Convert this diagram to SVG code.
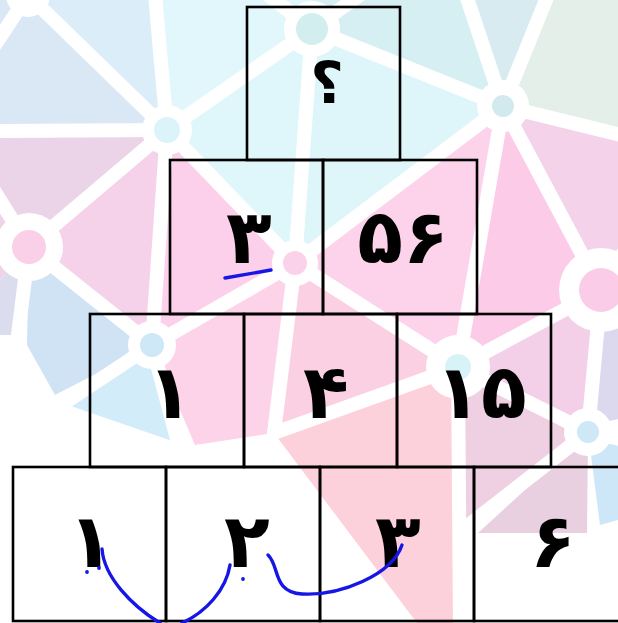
<svg xmlns="http://www.w3.org/2000/svg" width="618" height="623" viewBox="0 0 618 623">
<style>
.box{fill:none;stroke:#000;stroke-width:2.6}
.num{font-family:"DejaVu Sans",sans-serif;font-weight:bold;font-size:75px;text-anchor:middle;fill:#000}
.q{font-family:"DejaVu Sans",sans-serif;font-weight:bold;font-size:58px;text-anchor:middle;fill:#000}
.wl{stroke:#fff;stroke-width:14;stroke-linecap:round;fill:none}
.ring{fill:#fff}
.pen{fill:none;stroke:#1616e6;stroke-width:3.4;stroke-linecap:round}
.dot{fill:#1616e6}
</style>
<rect width="618" height="623" fill="#fff"/>
<g id="background">
  <polygon points="0,0 30,0 167,130 0,131" fill="#dae8f6"/>
  <polygon points="30,0 158,0 167,130" fill="#dcedfa"/>
  <polygon points="158,0 312,0 312,29 167,130" fill="#e2f7fc"/>
  <polygon points="167,130 312,29 295,263" fill="#dff6fb"/>
  <polygon points="312,0 470,0 503,106 312,29" fill="#d6eff2"/>
  <polygon points="470,0 545,0 503,106" fill="#d8ebf1"/>
  <polygon points="545,0 618,0 618,135 503,106" fill="#e3efe8"/>
  <polygon points="312,29 503,106 295,263" fill="#def6fa"/>
  <polygon points="295,263 503,106 458,367" fill="#fdd3eb"/>
  <polygon points="503,106 601,290 458,367" fill="#fccbe8"/>
  <polygon points="503,106 618,135 618,250 601,290" fill="#f3d2ea"/>
  <polygon points="167,130 295,263 152,345" fill="#fcd0ea"/>
  <polygon points="167,130 152,345 29,247" fill="#f6d2ea"/>
  <polygon points="0,131 167,130 29,247 0,195" fill="#ebd3e8"/>
  <polygon points="0,195 29,247 0,280" fill="#efd3e7"/>
  <polygon points="0,280 29,247 18,335 0,335" fill="#dcdcef"/>
  <polygon points="29,247 152,345 55,395 27,345" fill="#cfe3f5"/>
  <polygon points="152,345 178,443 68,405" fill="#d2ecfa"/>
  <polygon points="152,345 295,263 274,433 195,445" fill="#fdd3ea"/>
  <polygon points="295,263 458,367 274,433" fill="#fbd0e2"/>
  <polygon points="274,433 458,367 460,623 417,623" fill="#fdd1dc"/>
  <polygon points="458,367 588,432 470,522 462,540" fill="#efcfe2"/>
  <polygon points="588,432 478,533 587,533" fill="#e9d0e1"/>
  <polygon points="458,367 601,290 588,432" fill="#f3d0e8"/>
  <polygon points="601,290 618,280 618,425 588,432" fill="#dcd8ee"/>
  <polygon points="588,432 618,438 618,520 600,525" fill="#cde6f8"/>
  <g class="wl">
    <line x1="28" y1="-5" x2="167" y2="130"/>
    <line x1="28" y1="-5" x2="-5" y2="45"/>
    <line x1="-5" y1="131" x2="167" y2="130"/>
    <line x1="155" y1="-5" x2="167" y2="130"/>
    <line x1="167" y1="130" x2="312" y2="29"/>
    <line x1="167" y1="130" x2="29" y2="247"/>
    <line x1="167" y1="130" x2="152" y2="345"/>
    <line x1="167" y1="130" x2="295" y2="263"/>
    <line x1="29" y1="247" x2="-5" y2="192"/>
    <line x1="29" y1="247" x2="152" y2="345"/>
    <line x1="29" y1="247" x2="18" y2="335"/>
    <line x1="312" y1="29" x2="295" y2="263"/>
    <line x1="312" y1="29" x2="503" y2="106"/>
    <line x1="312" y1="29" x2="268" y2="-5"/>
    <line x1="312" y1="29" x2="360" y2="-5"/>
    <line x1="503" y1="106" x2="466" y2="-5"/>
    <line x1="503" y1="106" x2="548" y2="-5"/>
    <line x1="503" y1="106" x2="625" y2="136"/>
    <line x1="503" y1="106" x2="295" y2="263"/>
    <line x1="503" y1="106" x2="458" y2="367"/>
    <line x1="503" y1="106" x2="601" y2="290"/>
    <line x1="295" y1="263" x2="152" y2="345"/>
    <line x1="295" y1="263" x2="274" y2="433"/>
    <line x1="295" y1="263" x2="458" y2="367"/>
    <line x1="274" y1="433" x2="458" y2="367"/>
    <line x1="458" y1="367" x2="601" y2="290"/>
    <line x1="458" y1="367" x2="588" y2="432"/>
    <line x1="458" y1="367" x2="460" y2="628"/>
    <line x1="601" y1="290" x2="588" y2="432"/>
    <line x1="601" y1="290" x2="625" y2="250"/>
    <line x1="588" y1="432" x2="625" y2="425"/>
    <line x1="588" y1="432" x2="625" y2="440"/>
    <line x1="588" y1="432" x2="470" y2="524"/>
    <line x1="152" y1="345" x2="66" y2="402"/>
    <line x1="152" y1="345" x2="178" y2="443"/>
  </g>
  <circle class="ring" cx="28" cy="-5" r="22"/>
  <circle class="ring" cx="167" cy="130" r="25"/><circle cx="167" cy="130" r="13" fill="#dbf4f9"/>
  <circle class="ring" cx="29" cy="247" r="34"/><circle cx="29" cy="247" r="17" fill="#fad0e8"/>
  <circle class="ring" cx="312" cy="29" r="28"/><circle cx="312" cy="29" r="16" fill="#d3eeee"/>
  <circle class="ring" cx="295" cy="263" r="23"/><circle cx="295" cy="263" r="12" fill="#fad2ea"/>
  <circle class="ring" cx="503" cy="106" r="26"/><circle cx="503" cy="106" r="11" fill="#d2e9ee"/>
  <circle class="ring" cx="601" cy="290" r="42"/><circle cx="601" cy="290" r="22" fill="#fbcce8"/>
  <circle class="ring" cx="152" cy="345" r="24"/><circle cx="152" cy="345" r="12" fill="#cfe8f7"/>
  <circle class="ring" cx="458" cy="367" r="32"/><circle cx="458" cy="367" r="13" fill="#d8f3f8"/>
  <circle class="ring" cx="588" cy="432" r="24"/><circle cx="588" cy="432" r="11" fill="#cfe8f7"/>
</g>
<g id="cell-top"><rect class="box" x="247" y="7" width="153" height="153"/><text class="q" x="327" y="103">؟</text></g>
<g id="cell-r2-1"><rect class="box" x="170" y="160" width="153" height="154"/><text class="num" x="249" y="263">۳</text></g>
<g id="cell-r2-2"><rect class="box" x="323" y="160" width="154" height="154"/><text class="num" x="403" y="263">۵۶</text></g>
<g id="cell-r3-1"><rect class="box" x="90" y="314" width="154" height="153"/><text class="num" x="170" y="418">۱</text></g>
<g id="cell-r3-2"><rect class="box" x="244" y="314" width="153" height="153"/><text class="num" x="326" y="418">۴</text></g>
<g id="cell-r3-3"><rect class="box" x="397" y="314" width="154" height="153"/><text class="num" x="481" y="418">۱۵</text></g>
<g id="cell-r4-1"><rect class="box" x="13" y="467" width="153" height="154"/><text class="num" x="91" y="567">۱</text></g>
<g id="cell-r4-2"><rect class="box" x="166" y="467" width="154" height="154"/><text class="num" x="247" y="567">۲</text></g>
<g id="cell-r4-3"><rect class="box" x="320" y="467" width="154" height="154"/><text class="num" x="398" y="567">۳</text></g>
<g id="cell-r4-4"><rect class="box" x="474" y="467" width="154" height="154"/><text class="num" x="553" y="567">۶</text></g>
<g id="connectors">
  <path class="pen" d="M225,278 L271,270"/>
  <path class="pen" d="M102,549 C104,577 132,606 160,623"/>
  <path class="pen" d="M230,565 C226,590 206,612 182,623"/>
  <path class="pen" d="M268,555 C280,566 272,592 302,594 C340,596 392,575 402,545"/>
  <circle class="dot" cx="87" cy="572" r="1.9"/>
  <circle class="dot" cx="99" cy="568" r="1.9"/>
  <circle class="dot" cx="243" cy="579" r="1.9"/>
</g>
</svg>
